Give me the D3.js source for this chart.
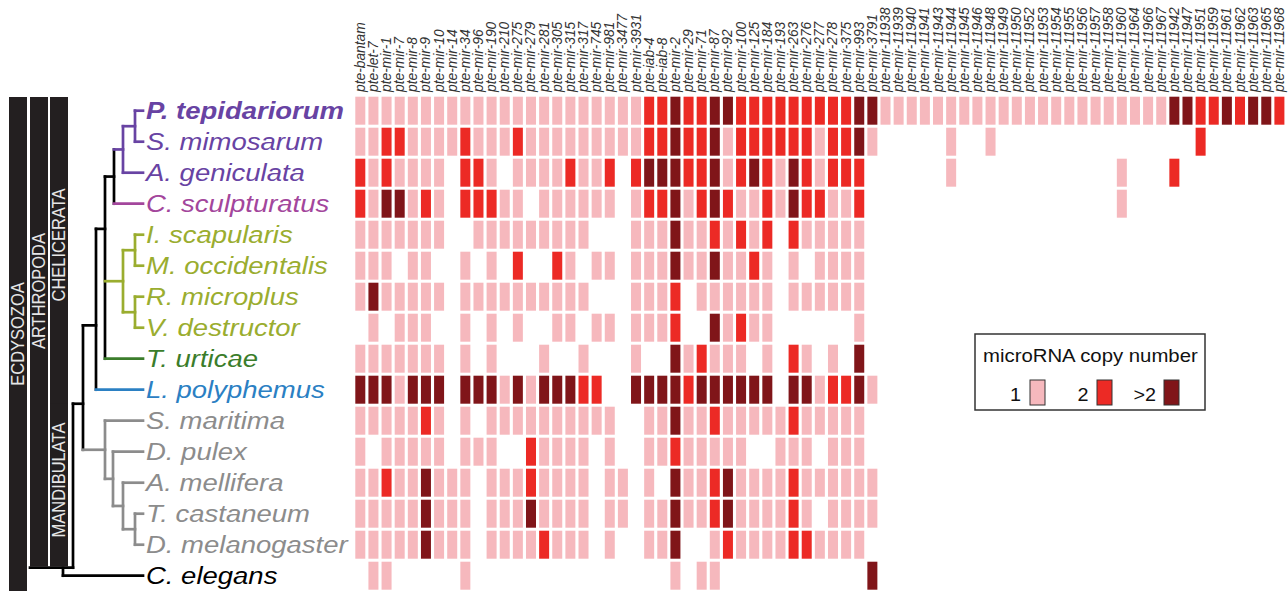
<!DOCTYPE html>
<html><head><meta charset="utf-8">
<script src="https://cdn.jsdelivr.net/npm/d3@7"></script>
<style>html,body{margin:0;padding:0;background:#fff;}svg{display:block;}</style>
</head><body>
<svg id="chart" width="1288" height="594"></svg>
<script>
// ---------- DATA ----------
const mirnas = ["pte-bantam","pte-let-7","pte-mir-1","pte-mir-7","pte-mir-8","pte-mir-9","pte-mir-10","pte-mir-14","pte-mir-34","pte-mir-96","pte-mir-190","pte-mir-210","pte-mir-275","pte-mir-279","pte-mir-281","pte-mir-305","pte-mir-315","pte-mir-317","pte-mir-745","pte-mir-981","pte-mir-3477","pte-mir-3931","pte-iab-4","pte-iab-8","pte-mir-2","pte-mir-29","pte-mir-71","pte-mir-87","pte-mir-92","pte-mir-100","pte-mir-125","pte-mir-184","pte-mir-193","pte-mir-263","pte-mir-276","pte-mir-277","pte-mir-278","pte-mir-375","pte-mir-993","pte-mir-3791","pte-mir-11938","pte-mir-11939","pte-mir-11940","pte-mir-11941","pte-mir-11943","pte-mir-11944","pte-mir-11945","pte-mir-11946","pte-mir-11948","pte-mir-11949","pte-mir-11950","pte-mir-11952","pte-mir-11953","pte-mir-11954","pte-mir-11955","pte-mir-11956","pte-mir-11957","pte-mir-11958","pte-mir-11960","pte-mir-11964","pte-mir-11966","pte-mir-11967","pte-mir-11942","pte-mir-11947","pte-mir-11951","pte-mir-11959","pte-mir-11961","pte-mir-11962","pte-mir-11963","pte-mir-11965","pte-mir-11968"];

const species = ["P. tepidariorum","S. mimosarum","A. geniculata","C. sculpturatus","I. scapularis","M. occidentalis","R. microplus","V. destructor","T. urticae","L. polyphemus","S. maritima","D. pulex","A. mellifera","T. castaneum","D. melanogaster","C. elegans"];

// copy number per species (0 = absent, 1, 2, 3 = >2), one digit per miRNA in the order above
const copies = [
  "1111111111111111111111 223223322222222233 1111111111111111111111 332232332",
  "11221111211121111111 11223223122222212231 0000010010000000000000002000000",
  "21211110221011112112 02333223123213212220 0000010000000000001000200000000",
  "21331210222110111111 01223123211213221120 0000000000000000001000000000000",
  "11111110011111111100 01113112121202111110 0000000000000000000000000000000",
  "11101100101020021011 01113113112101011110 0000000000000000000000000000000",
  "13111110111111111100 01112011111101111110 0000000000000000000000000000000",
  "01011100101010011011 01112003121100000010 0000000000000000000000000000000",
  "11111110101000100100 01003121110102101030 0000000000000000000000000000000",
  "33313330333131333220 03333233333303312231 0000000000000000000000000000000",
  "11111210101111111111 00113112111112111110 0000000000000000000000000000000",
  "10111110111002111101 00112111110011101110 0000000000000000000000000000000",
  "11211311101112111101 10103112311112111111 0000000000000000000000000000000",
  "11111311101113111101 10113112311112101111 0000000000000000000000000000000",
  "11111311101111211101 00113001211112211110 0000000000000000000000000000000",
  "01100000100000000000 00001011000000000003 0000000000000000000000000000000"
];

const legendLevels = ["1","2",">2"];
const cladeBars = [
  {name:"ECDYSOZOA",   from:"P. tepidariorum", to:"C. elegans"},
  {name:"ARTHROPODA",  from:"P. tepidariorum", to:"D. melanogaster"},
  {name:"CHELICERATA", from:"P. tepidariorum", to:"L. polyphemus"},
  {name:"MANDIBULATA", from:"S. maritima",     to:"D. melanogaster"}
];

// ---------- STYLE / LAYOUT ----------
const FONT = "Liberation Sans, Arial, sans-serif";
const colorScale = d3.scaleOrdinal().domain([1,2,3]).range(["#f6b8bd","#ec2a25","#801519"]);
const speciesColor = {
  "P. tepidariorum":"#6843a3","S. mimosarum":"#6843a3","A. geniculata":"#6843a3",
  "C. sculpturatus":"#a3469c",
  "I. scapularis":"#9aad2f","M. occidentalis":"#9aad2f","R. microplus":"#9aad2f","V. destructor":"#9aad2f",
  "T. urticae":"#3b7d2b","L. polyphemus":"#2b80c3",
  "S. maritima":"#8c8c8c","D. pulex":"#8c8c8c","A. mellifera":"#8c8c8c","T. castaneum":"#8c8c8c","D. melanogaster":"#8c8c8c",
  "C. elegans":"#000000"
};

const svg = d3.select("#chart");
const matrix = copies.map(s => s.replace(/\s+/g,"").slice(0, mirnas.length).split("").map(Number));

const x = d3.scaleBand().domain(mirnas).range([355.3, 1284.4]).paddingInner(0.238).paddingOuter(0);
const y = d3.scaleBand().domain(species).range([96.7, 589.7]).paddingInner(0.097).paddingOuter(0);
const yc = s => y(s) + y.bandwidth()/2;

// ---------- CELLS ----------
const cells = [];
matrix.forEach((row,i) => row.forEach((v,j) => { if (v>0) cells.push({sp:species[i], mi:mirnas[j], v}); }));
svg.append("g").selectAll("rect").data(cells).join("rect")
  .attr("x", d => x(d.mi)).attr("y", d => y(d.sp))
  .attr("width", x.bandwidth()).attr("height", y.bandwidth())
  .attr("fill", d => colorScale(d.v));

// ---------- COLUMN LABELS ----------
svg.append("g").selectAll("text").data(mirnas).join("text")
  .attr("transform", d => `translate(${x(d)+x.bandwidth()/2+4.5},92) rotate(-90) scale(1,1.1)`)
  .attr("font-family",FONT)
  .attr("font-style","italic").attr("font-size",13.8).attr("fill","#333")
  .text(d => d);

// ---------- SPECIES LABELS ----------
svg.append("g").selectAll("text").data(species).join("text")
  .attr("transform", d => `translate(146,${yc(d)+8.5}) scale(1.17,1)`)
  .attr("font-family",FONT)
  .attr("font-style","italic").attr("font-size",23.5)
  .attr("font-weight", d => d==="P. tepidariorum" ? "bold" : "normal")
  .attr("fill", d => speciesColor[d])
  .text(d => d);

// ---------- TREE ----------
const PURPLE="#6843a3", GREEN="#9aad2f", GREY="#8c8c8c";
const tree = {x:73, color:"#000", stem:30, children:[
  {x:83, color:"#000", anchor:0.63, children:[
    {x:96, color:"#000", anchor:0.6, children:[
      {x:105, color:"#000", children:[
        {x:114, color:"#000", children:[
          {x:123, color:PURPLE, children:[
            {x:135, color:PURPLE, children:[{leaf:"P. tepidariorum"},{leaf:"S. mimosarum"}]},
            {leaf:"A. geniculata"}]},
          {leaf:"C. sculpturatus"}]},
        {x:123, color:GREEN, children:[
          {x:135, color:GREEN, children:[{leaf:"I. scapularis"},{leaf:"M. occidentalis"}]},
          {x:135, color:GREEN, children:[{leaf:"R. microplus"},{leaf:"V. destructor"}]}]},
        {leaf:"T. urticae"}]},
      {leaf:"L. polyphemus"}]},
    {x:105, color:GREY, children:[
      {leaf:"S. maritima"},
      {x:113, color:GREY, children:[
        {leaf:"D. pulex"},
        {x:123, color:GREY, children:[
          {leaf:"A. mellifera"},
          {x:135, color:GREY, children:[{leaf:"T. castaneum"},{leaf:"D. melanogaster"}]}]}]}]}]}
]};
const outgroup = {leaf:"C. elegans", elbow:63};

const leafX = 143;
function layout(n){
  if (n.leaf){ n.px = leafX; n.py = yc(n.leaf); n.col = speciesColor[n.leaf]; return; }
  n.children.forEach(layout);
  const ys = n.children.map(c=>c.py);
  n.ymin = d3.min(ys); n.ymax = d3.max(ys);
  n.py = n.anchor != null ? n.ymin + n.anchor*(n.ymax-n.ymin) : (ys[0]+ys[1])/2;
  n.px = n.x; n.col = n.color;
}
layout(tree);
// root: vertical from ingroup down to just above the outgroup row
layout(outgroup);
tree.ymin = tree.children[0].py; tree.ymax = outgroup.py - 8; tree.py = tree.ymax;

const segs = [];
function collect(n){
  if (n.leaf) return;
  segs.push({x1:n.px,y1:n.ymin,x2:n.px,y2:n.ymax,c:n.col});
  n.children.forEach(c => { segs.push({x1:n.px,y1:c.py,x2:c.px,y2:c.py,c:c.col}); collect(c); });
}
collect(tree);
segs.push({x1:tree.stem,y1:tree.py,x2:tree.px,y2:tree.py,c:"#000"});
segs.push({x1:outgroup.elbow,y1:tree.py,x2:outgroup.elbow,y2:outgroup.py,c:"#000"});
segs.push({x1:outgroup.elbow,y1:outgroup.py,x2:leafX,y2:outgroup.py,c:"#000"});
svg.append("g").selectAll("line").data(segs).join("line")
  .attr("x1",d=>d.x1).attr("y1",d=>d.y1).attr("x2",d=>d.x2).attr("y2",d=>d.y2)
  .attr("stroke",d=>d.c).attr("stroke-width",2.7).attr("stroke-linecap","square");

// ---------- CLADE BARS ----------
const barX = {ECDYSOZOA:9, ARTHROPODA:30, CHELICERATA:50, MANDIBULATA:50};
const barG = svg.append("g");
cladeBars.forEach(b => {
  const top = b.name==="MANDIBULATA" ? y(b.from)-3 : 97;
  const bot = b.name==="ECDYSOZOA" ? 591 : (b.name==="CHELICERATA" ? y(b.to)+y.bandwidth()+2 : y(b.to)+y.bandwidth()+8);
  barG.append("rect").attr("x",barX[b.name]).attr("y",top).attr("width",18).attr("height",bot-top).attr("fill","#231f20");
});
const barText = {ECDYSOZOA:334, ARTHROPODA:291, CHELICERATA:245, MANDIBULATA:480};
cladeBars.forEach(b => {
  barG.append("text").attr("transform",`translate(${barX[b.name]+15},${barText[b.name]}) rotate(-90) scale(1,1.1)`)
    .attr("text-anchor","middle").attr("font-family",FONT)
    .attr("font-size",16.5).attr("fill","#e6e6e6").text(b.name);
});

// ---------- LEGEND ----------
const lg = svg.append("g");
lg.append("rect").attr("x",975).attr("y",334).attr("width",230).attr("height",76).attr("fill","#fff").attr("stroke","#333").attr("stroke-width",1.5);
lg.append("text").attr("transform","translate(983,362) scale(1.1,1)").attr("font-family",FONT).attr("font-size",18.5).attr("fill","#111").text("microRNA copy number");
const lx = d3.scalePoint().domain(legendLevels).range([1021,1156]).padding(0);
const swX = d3.scalePoint().domain(legendLevels).range([1030,1164]);
legendLevels.forEach((l,i) => {
  lg.append("text").attr("transform",`translate(${lx(l)},401) scale(1.1,1)`).attr("text-anchor","end").attr("font-family",FONT).attr("font-size",18).attr("fill","#111").text(l);
  lg.append("rect").attr("x",swX(l)).attr("y",380).attr("width",15).attr("height",25).attr("fill",colorScale(i+1)).attr("stroke","#333").attr("stroke-width",1);
});
</script>
</body></html>
